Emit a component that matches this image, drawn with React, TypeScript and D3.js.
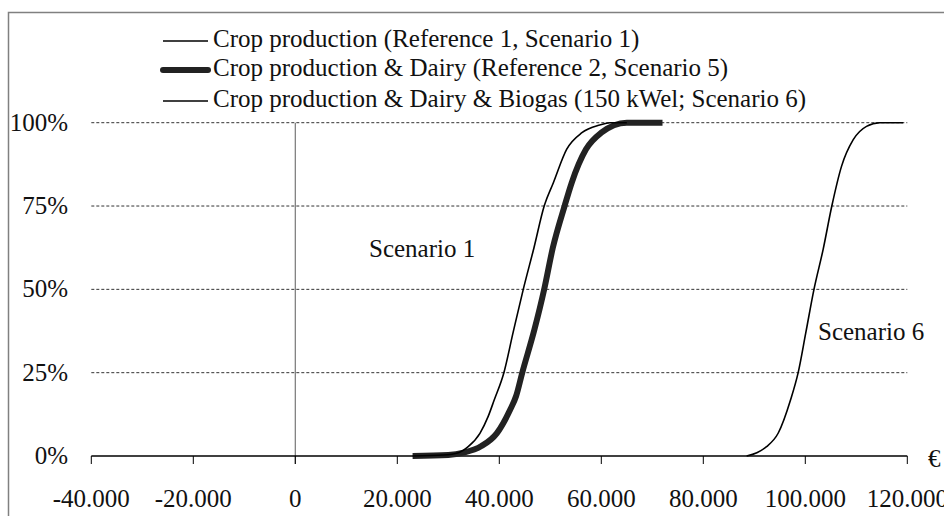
import React from "react";
import * as d3 from "d3";

const W = 944;
const H = 516;

const xTicks = [-40000, -20000, 0, 20000, 40000, 60000, 80000, 100000, 120000];
const xTickLabels = ["-40.000", "-20.000", "0", "20.000", "40.000", "60.000", "80.000", "100.000", "120.000"];
const yTicks = [0, 0.25, 0.5, 0.75, 1];
const yTickLabels = ["0%", "25%", "50%", "75%", "100%"];

const s1X = [23000, 29000, 32000, 33900, 36200, 37800, 39000, 40900, 42700, 44700, 46800, 48800, 50600, 53200, 56200, 59700, 61700, 65000];
const s1P = [0, 0.003, 0.01, 0.028, 0.068, 0.118, 0.168, 0.25, 0.37, 0.5, 0.625, 0.75, 0.82, 0.92, 0.97, 0.993, 1, 1];

const s5X = [23000, 30000, 33000, 36500, 39500, 42100, 43300, 44500, 46900, 48800, 50500, 52800, 54200, 57000, 60000, 65000, 72000];
const s5P = [0, 0.003, 0.01, 0.03, 0.068, 0.138, 0.18, 0.25, 0.38, 0.5, 0.625, 0.75, 0.82, 0.92, 0.97, 1, 1];

const s6X = [88500, 90500, 92400, 94700, 97100, 98600, 100100, 101700, 103500, 105200, 107100, 109400, 112000, 114600, 119200];
const s6P = [0, 0.01, 0.028, 0.069, 0.168, 0.25, 0.37, 0.5, 0.62, 0.75, 0.869, 0.949, 0.989, 1, 1];

const legendLabels = [
  "Crop production (Reference 1, Scenario 1)",
  "Crop production & Dairy (Reference 2, Scenario 5)",
  "Crop production & Dairy & Biogas (150 kWel; Scenario 6)",
];

const FONT = "'Liberation Serif', 'Times New Roman', serif";

export default function App() {
  const x = d3.scaleLinear().domain([-40000, 120000]).range([91.3, 907.3]);
  const y = d3.scaleLinear().domain([0, 1]).range([456, 122.7]);

  const line = d3
    .line<[number, number]>()
    .x((d) => x(d[0]))
    .y((d) => y(d[1]))
    .curve(d3.curveMonotoneX);

  const zip = (xs: number[], ps: number[]) => xs.map((v, i) => [v, ps[i]] as [number, number]);

  const legendRows = [
    { lineY: 41, base: 47, width: 1.6, color: "#000" },
    { lineY: 70, base: 76, width: 6, color: "#222" },
    { lineY: 101, base: 107, width: 1.6, color: "#000" },
  ];

  return (
    <svg
      width={W}
      height={H}
      style={{ position: "absolute", left: 0, top: 0, background: "#fff" }}
      fontFamily={FONT}
    >
      <rect x={0} y={0} width={W} height={H} fill="#fff" />
      {/* outer frame */}
      <path d={`M8.5,${H + 2} L8.5,12.5 L${W + 2},12.5`} fill="none" stroke="#808080" strokeWidth={1.5} />

      {/* gridlines */}
      {yTicks.slice(1).map((t) => (
        <line
          key={"g" + t}
          x1={x(-40000)}
          x2={x(120000)}
          y1={y(t)}
          y2={y(t)}
          stroke="#333"
          strokeWidth={1}
          strokeDasharray="3,2"
        />
      ))}

      {/* vertical zero line */}
      <line x1={x(0)} x2={x(0)} y1={y(1)} y2={y(0) + 8} stroke="#777" strokeWidth={1.2} />

      {/* x axis */}
      <line x1={x(-40000)} x2={x(120000)} y1={y(0)} y2={y(0)} stroke="#000" strokeWidth={1.3} />
      {xTicks.map((t, i) => (
        <g key={"xt" + t}>
          <line x1={x(t)} x2={x(t)} y1={y(0)} y2={y(0) + 8} stroke="#000" strokeWidth={1} />
          <text x={x(t)} y={507} textAnchor="middle" fontSize={25} fill="#111">
            {xTickLabels[i]}
          </text>
        </g>
      ))}
      <text x={928} y={467} fontSize={25} fill="#111">€</text>

      {/* y labels */}
      {yTicks.map((t, i) => (
        <text key={"yl" + t} x={68} y={y(t) + 8} textAnchor="end" fontSize={25} fill="#111">
          {yTickLabels[i]}
        </text>
      ))}

      {/* curves */}
      <path d={line(zip(s5X, s5P)) || ""} fill="none" stroke="#222" strokeWidth={6} strokeLinejoin="round" />
      <path d={line(zip(s1X, s1P)) || ""} fill="none" stroke="#000" strokeWidth={1.6} />
      <path d={line(zip(s6X, s6P)) || ""} fill="none" stroke="#000" strokeWidth={1.6} />

      {/* annotations */}
      <text x={369} y={257} fontSize={25} fill="#111">Scenario 1</text>
      <text x={818} y={340} fontSize={25} fill="#111">Scenario 6</text>

      {/* legend */}
      {legendRows.map((r, i) => (
        <g key={"lg" + i}>
          <line
            x1={163}
            x2={208}
            y1={r.lineY}
            y2={r.lineY}
            stroke={r.color}
            strokeWidth={r.width}
            strokeLinecap={i === 1 ? "round" : "butt"}
          />
          <text x={213} y={r.base} fontSize={25} fill="#111">
            {legendLabels[i]}
          </text>
        </g>
      ))}
    </svg>
  );
}
